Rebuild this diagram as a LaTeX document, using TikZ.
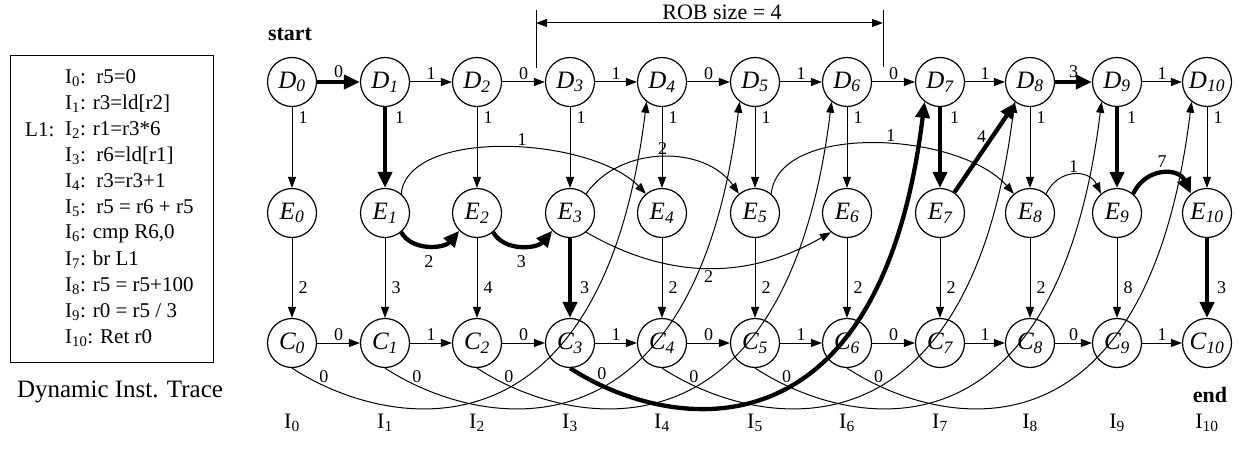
\documentclass[tikz,border=0pt]{standalone}
\usepackage{fontspec}
\setmainfont{Liberation Serif}
\usetikzlibrary{arrows.meta,calc}

% font size helper (px-like units: 1pt per pixel)
\newcommand{\fsz}[1]{\fontsize{#1}{#1}\selectfont}

\begin{document}
\begin{tikzpicture}[x=1pt,y=1pt,
  stage/.style={circle, draw, line width=1.2pt, minimum size=49pt, inner sep=0pt, font=\fsz{25}\itshape},
  thinarrow/.style={line width=1pt, -{Triangle[length=11pt,width=8pt]}},
  thickarrow/.style={line width=4.3pt, -{Triangle[length=16pt,width=14pt]}},
  lbl/.style={font=\fsz{18}, inner sep=2pt},
  trace/.style={anchor=west, font=\fsz{21}, inner sep=0pt},
  caption/.style={font=\fsz{22}},
]
\useasboundingbox (0,0) rectangle (1239,-449);

% ---------- instruction trace ----------
\node[draw, line width=1.2pt, minimum width=203pt, minimum height=307pt, inner sep=0pt, anchor=north west] (tracebox) at (10,-55) {};
\node[trace] (tr0)  at (65,-78)  {I\textsubscript{0}:\ \ r5=0};
\node[trace] (tr1)  at (65,-104) {I\textsubscript{1}: r3=ld[r2]};
\node[trace] (tr2)  at (65,-130) {I\textsubscript{2}: r1=r3*6};
\node[trace] (lab)  at (25,-130) {L1:};
\node[trace] (tr3)  at (65,-156) {I\textsubscript{3}:\ \ r6=ld[r1]};
\node[trace] (tr4)  at (65,-182) {I\textsubscript{4}:\ \ r3=r3+1};
\node[trace] (tr5)  at (65,-208) {I\textsubscript{5}:\ \ r5 = r6 + r5};
\node[trace] (tr6)  at (65,-234) {I\textsubscript{6}: cmp R6,0};
\node[trace] (tr7)  at (65,-260) {I\textsubscript{7}: br L1};
\node[trace] (tr8)  at (65,-286) {I\textsubscript{8}: r5 = r5+100};
\node[trace] (tr9)  at (65,-312) {I\textsubscript{9}: r0 = r5 / 3};
\node[trace] (tr10) at (65,-338) {I\textsubscript{10}: Ret r0};
\node[font=\fsz{25}] (tracecap) at (120,-392) {Dynamic Inst. Trace};

% ---------- graph nodes ----------
\foreach \x [count=\i from 0] in {292,385,477,570,662,755,847,940,1030,1117,1207} {
  \node[stage] (D\i) at (\x,-82)  {D\textsubscript{\i}};
  \node[stage] (E\i) at (\x,-213) {E\textsubscript{\i}};
  \node[stage] (C\i) at (\x,-343) {C\textsubscript{\i}};
  \node[caption] (I\i) at (\x,-423) {I\textsubscript{\i}};
}
\node[caption, font=\fsz{22}\bfseries] (start) at (290,-34) {start};
\node[caption, font=\fsz{22}\bfseries] (end)   at (1210,-395) {end};

% ---------- ROB window ----------
\coordinate (robLtop) at (536,-10);
\coordinate (robLbot) at (536,-68);
\coordinate (robLmid) at (536,-23);
\coordinate (robRtop) at (883,-10);
\coordinate (robRbot) at (883,-67);
\coordinate (robRmid) at (883,-23);
\draw[line width=1pt] (robLtop) -- (robLbot);
\draw[line width=1pt] (robRtop) -- (robRbot);
\draw[line width=1pt, {Triangle[length=11pt,width=8pt]}-{Triangle[length=11pt,width=8pt]}] (robLmid) -- (robRmid);
\node[caption] (rob) at (722,-12) {ROB size = 4};

% ---------- dispatch row ----------
\foreach \a/\b/\w/\s in {0/1/0/thickarrow,1/2/1/thinarrow,2/3/0/thinarrow,3/4/1/thinarrow,4/5/0/thinarrow,
                         5/6/1/thinarrow,6/7/0/thinarrow,7/8/1/thinarrow,8/9/3/thickarrow,9/10/1/thinarrow}
  \draw[\s] (D\a) -- node[lbl, above] {\w} (D\b);

% ---------- commit row ----------
\foreach \a/\b/\w in {0/1/0,1/2/1,2/3/0,3/4/1,4/5/0,5/6/1,6/7/0,7/8/1,8/9/0,9/10/1}
  \draw[thinarrow] (C\a) -- node[lbl, above] {\w} (C\b);

% ---------- dispatch -> execute ----------
\foreach \i/\s/\d in {0/thinarrow/4pt,1/thickarrow/6pt,2/thinarrow/4pt,3/thinarrow/4pt,4/thinarrow/4pt,5/thinarrow/4pt,
                      6/thinarrow/4pt,7/thickarrow/6pt,8/thinarrow/4pt,9/thickarrow/6pt,10/thinarrow/4pt}
  \draw[\s] (D\i) -- node[lbl, pos=0.13, right=\d] {1} (E\i);

% ---------- execute -> commit ----------
\foreach \i/\w/\s/\d in {0/2/thinarrow/4pt,1/3/thinarrow/4pt,2/4/thinarrow/4pt,3/3/thickarrow/6pt,4/2/thinarrow/4pt,5/2/thinarrow/4pt,
                         6/2/thinarrow/4pt,7/2/thinarrow/4pt,8/2/thinarrow/4pt,9/8/thinarrow/4pt,10/3/thickarrow/6pt}
  \draw[\s] (E\i) -- node[lbl, pos=0.62, right=\d] {\w} (C\i);

% ---------- commit -> dispatch (ROB size 4) ----------
\foreach \a/\b in {0/4,1/5,2/6,4/8,5/9,6/10}
  \draw[thinarrow] (C\a.south) .. controls ($(C\a.south)+(95,-62)$) and ($(D\b.-128)+(-45,-368)$) .. (D\b.-128)
    node[lbl, pos=0.1, above] {0};
\draw[thickarrow] (C3.south) .. controls ($(C3.south)+(95,-62)$) and ($(D7.-128)+(-45,-368)$) .. (D7.-128)
    node[lbl, pos=0.1, above=2pt] {0};

% ---------- execute-to-execute dependences ----------
\draw[thickarrow] (E1.-50) to[out=-60,in=-130] node[lbl, below=6pt] {2} (E2.-135);
\draw[thickarrow] (E2.-50) to[out=-60,in=-130] node[lbl, below=6pt] {3} (E3.-135);
\draw[thinarrow] (E1.50) .. controls ($(E1.50)+(8,67)$) and ($(E4.130)+(-55,57)$) .. (E4.130)
    node[lbl, pos=0.55, above] {1};
\draw[thinarrow] (E3.50) to[out=55,in=125] node[lbl, above] {2} (E5.130);
\draw[thinarrow] (E3.-50) to[out=-30,in=-150] node[lbl, below] {2} (E6.-130);
\draw[thinarrow] (E5.50) .. controls ($(E5.50)+(8,72)$) and ($(E8.130)+(-55,62)$) .. (E8.130)
    node[lbl, pos=0.55, above] {1};
\draw[thinarrow] (E8.50) to[out=65,in=115,looseness=1.3] node[lbl, above] {1} (E9.130);
\draw[thickarrow] (E9.50) to[out=65,in=115,looseness=1.3] node[lbl, above=2pt] {7} (E10.130);
\draw[thickarrow] (E7.55) -- node[lbl, pos=0.62, left=2pt] {4} (D8.-125);

\end{tikzpicture}
\end{document}
